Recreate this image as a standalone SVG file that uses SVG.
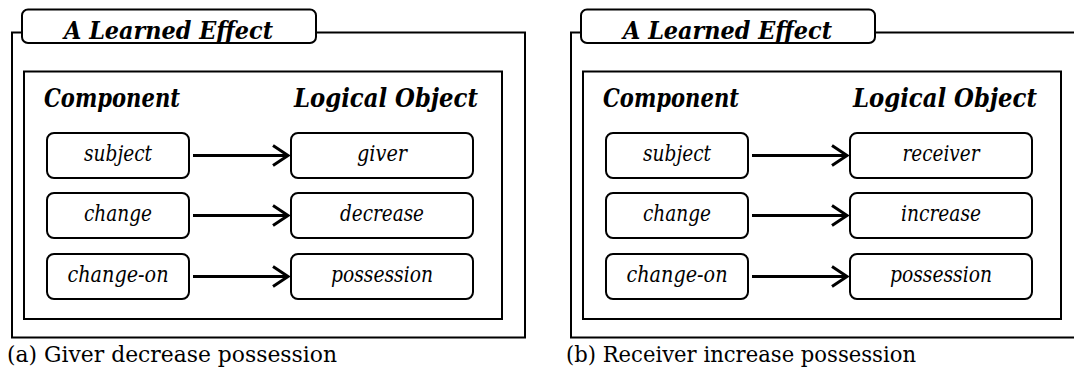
<svg xmlns="http://www.w3.org/2000/svg" width="1074" height="369" viewBox="0 0 1074 369">
  <style>
    text { font-family: "DejaVu Serif", "Liberation Serif", serif; fill: #000; }
    .frame { fill: none; stroke: #000; stroke-width: 2; }
    .inner { fill: none; stroke: #000; stroke-width: 2; }
    .tab { fill: #fff; stroke: #000; stroke-width: 2; }
    .node rect { fill: #fff; stroke: #000; stroke-width: 2; }
    .node text { font-style: italic; font-size: 22px; text-anchor: middle; }
    .title { font-style: italic; font-weight: bold; font-size: 25px; }
    .head { font-style: italic; font-weight: bold; font-size: 26px; }
    .caption { font-size: 23px; }
    .conn line { stroke: #000; stroke-width: 3; }
  </style>
  <defs>
    <marker id="chevron" viewBox="0 0 20 24" refX="17" refY="12" markerWidth="20" markerHeight="24" markerUnits="userSpaceOnUse" orient="auto">
      <path d="M2,2 L17,12 L2,22" fill="none" stroke="#000" stroke-width="3"/>
    </marker>
  </defs>
  <rect width="1074" height="369" fill="#fff"/>

  <!-- Panel (a) -->
  <g id="panel-a">
    <path class="frame" d="M22,32.5 H12 V337.5 H525 V32.5 H316"/>
    <rect class="tab" x="22" y="9.5" width="294" height="33.5" rx="6"/>
    <text class="title" x="64" y="39" textLength="209" lengthAdjust="spacingAndGlyphs">A Learned Effect</text>
    <rect class="inner" x="24" y="71.5" width="478" height="247.5"/>
    <text class="head" x="44" y="107" textLength="136" lengthAdjust="spacingAndGlyphs">Component</text>
    <text class="head" x="294" y="107" textLength="184" lengthAdjust="spacingAndGlyphs">Logical Object</text>

    <g id="a-subject" class="node"><rect x="47" y="133" width="142" height="45" rx="7"/><text x="118" y="161" textLength="68" lengthAdjust="spacingAndGlyphs">subject</text></g>
    <g id="a-change" class="node"><rect x="47" y="193" width="142" height="45" rx="7"/><text x="118" y="221" textLength="68" lengthAdjust="spacingAndGlyphs">change</text></g>
    <g id="a-change-on" class="node"><rect x="47" y="254" width="142" height="45" rx="7"/><text x="118" y="282" textLength="101" lengthAdjust="spacingAndGlyphs">change-on</text></g>
    <g id="a-giver" class="node"><rect x="291" y="133" width="182" height="45" rx="7"/><text x="382" y="161" textLength="50" lengthAdjust="spacingAndGlyphs">giver</text></g>
    <g id="a-decrease" class="node"><rect x="291" y="193" width="182" height="45" rx="7"/><text x="382" y="221" textLength="84" lengthAdjust="spacingAndGlyphs">decrease</text></g>
    <g id="a-possession" class="node"><rect x="291" y="254" width="182" height="45" rx="7"/><text x="382" y="282" textLength="102" lengthAdjust="spacingAndGlyphs">possession</text></g>

    <g id="a-connectors" class="conn">
      <line x1="193" y1="155.5" x2="288" y2="155.5" marker-end="url(#chevron)"/>
      <line x1="193" y1="215.5" x2="288" y2="215.5" marker-end="url(#chevron)"/>
      <line x1="193" y1="276.5" x2="288" y2="276.5" marker-end="url(#chevron)"/>
    </g>
    <text class="caption" x="7" y="362" textLength="330" lengthAdjust="spacingAndGlyphs">(a) Giver decrease possession</text>
  </g>

  <!-- Panel (b) -->
  <g id="panel-b">
    <path class="frame" d="M581,32.5 H571 V337.5 H1084 M875,32.5 H1084"/>
    <rect class="tab" x="581" y="9.5" width="294" height="33.5" rx="6"/>
    <text class="title" x="623" y="39" textLength="209" lengthAdjust="spacingAndGlyphs">A Learned Effect</text>
    <rect class="inner" x="583" y="71.5" width="478" height="247.5"/>
    <text class="head" x="603" y="107" textLength="136" lengthAdjust="spacingAndGlyphs">Component</text>
    <text class="head" x="853" y="107" textLength="184" lengthAdjust="spacingAndGlyphs">Logical Object</text>

    <g id="b-subject" class="node"><rect x="606" y="133" width="142" height="45" rx="7"/><text x="677" y="161" textLength="68" lengthAdjust="spacingAndGlyphs">subject</text></g>
    <g id="b-change" class="node"><rect x="606" y="193" width="142" height="45" rx="7"/><text x="677" y="221" textLength="68" lengthAdjust="spacingAndGlyphs">change</text></g>
    <g id="b-change-on" class="node"><rect x="606" y="254" width="142" height="45" rx="7"/><text x="677" y="282" textLength="101" lengthAdjust="spacingAndGlyphs">change-on</text></g>
    <g id="b-receiver" class="node"><rect x="850" y="133" width="182" height="45" rx="7"/><text x="941" y="161" textLength="77" lengthAdjust="spacingAndGlyphs">receiver</text></g>
    <g id="b-increase" class="node"><rect x="850" y="193" width="182" height="45" rx="7"/><text x="941" y="221" textLength="80" lengthAdjust="spacingAndGlyphs">increase</text></g>
    <g id="b-possession" class="node"><rect x="850" y="254" width="182" height="45" rx="7"/><text x="941" y="282" textLength="102" lengthAdjust="spacingAndGlyphs">possession</text></g>

    <g id="b-connectors" class="conn">
      <line x1="752" y1="155.5" x2="847" y2="155.5" marker-end="url(#chevron)"/>
      <line x1="752" y1="215.5" x2="847" y2="215.5" marker-end="url(#chevron)"/>
      <line x1="752" y1="276.5" x2="847" y2="276.5" marker-end="url(#chevron)"/>
    </g>
    <text class="caption" x="566" y="362" textLength="350" lengthAdjust="spacingAndGlyphs">(b) Receiver increase possession</text>
  </g>
</svg>
